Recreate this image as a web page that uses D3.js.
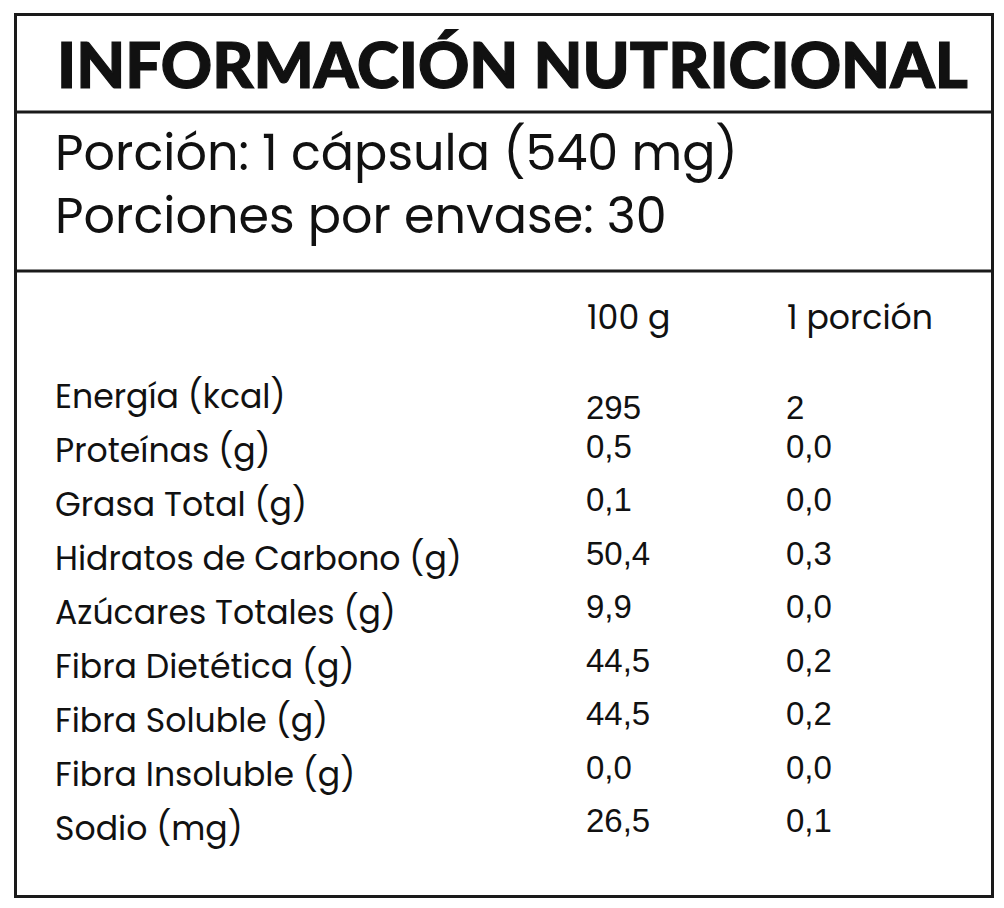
<!DOCTYPE html>
<html>
<head>
<meta charset="utf-8">
<script src="https://cdn.jsdelivr.net/npm/d3@7"></script>
<style>
  body { margin: 0; background: #fff; }
  svg { display: block; }
</style>
</head>
<body>
<svg width="1004" height="908"></svg>
<script>
// datos de la tabla
const titulo = 'INFORMACIÓN NUTRICIONAL';
const porcion = ['Porción: 1 cápsula (540 mg)', 'Porciones por envase: 30'];
const columnas = ['100 g', '1 porción'];
const nutrientes = ['Energía (kcal)', 'Proteínas (g)', 'Grasa Total (g)', 'Hidratos de Carbono (g)',
  'Azúcares Totales (g)', 'Fibra Dietética (g)', 'Fibra Soluble (g)', 'Fibra Insoluble (g)', 'Sodio (mg)'];
const por100g = ['295', '0,5', '0,1', '50,4', '9,9', '44,5', '44,5', '0,0', '26,5'];
const porPorcion = ['2', '0,0', '0,0', '0,3', '0,0', '0,2', '0,2', '0,0', '0,1'];

const svg = d3.select('svg');
const etiquetaFont = 'Poppins, Lato, "Noto Sans", sans-serif';
const numFont = '"Liberation Sans", Arial, sans-serif';

// marco y separadores
svg.append('rect')
  .attr('x', 15.5).attr('y', 14.5)
  .attr('width', 977).attr('height', 882)
  .attr('fill', 'none').attr('stroke', '#1a1a1a').attr('stroke-width', 3);
[112, 271].forEach(y => {
  svg.append('line')
    .attr('x1', 15).attr('x2', 993).attr('y1', y).attr('y2', y)
    .attr('stroke', '#1a1a1a').attr('stroke-width', 3);
});

// ajustar tamaño de letra a un ancho objetivo
function ajustar(sel, ancho) {
  const fs = parseFloat(sel.attr('font-size'));
  const w = sel.node().getComputedTextLength();
  sel.attr('font-size', fs * ancho / w);
  return fs * ancho / w;
}

// titulo
const t = svg.append('text')
  .attr('x', 57).attr('y', 88)
  .attr('font-family', '"Lato", "DejaVu Sans", sans-serif')
  .attr('font-weight', 900)
  .attr('font-size', 64)
  .attr('fill', '#111')
  .attr('stroke', '#111').attr('stroke-width', 1.2)
  .text(titulo);
ajustar(t, 911);

// porcion
const p0 = svg.append('text')
  .attr('x', 55).attr('y', 170)
  .attr('font-family', etiquetaFont)
  .attr('font-size', 44)
  .attr('fill', '#111')
  .text(porcion[0]);
const fsP = ajustar(p0, 683);
svg.append('text')
  .attr('x', 55).attr('y', 233)
  .attr('font-family', etiquetaFont)
  .attr('font-size', fsP)
  .attr('fill', '#111')
  .text(porcion[1]);

// columnas
const x = d3.scaleOrdinal().domain(columnas).range([587, 787]);
const yEtiq = d3.scalePoint().domain(nutrientes).range([408, 840]);
const yVal = d3.scalePoint().domain(nutrientes.slice(1)).range([458, 832]);

// tamaño de etiquetas: ajustar a la más larga
const prueba = svg.append('text')
  .attr('font-family', etiquetaFont).attr('font-size', 30)
  .text(nutrientes[3]);
const fsE = ajustar(prueba, 407);
prueba.remove();

svg.append('g').selectAll('text')
  .data(columnas).enter().append('text')
  .attr('x', d => x(d)).attr('y', 329)
  .attr('font-family', etiquetaFont)
  .attr('font-size', fsE)
  .attr('fill', '#111')
  .text(d => d);

svg.append('g').selectAll('text')
  .data(nutrientes).enter().append('text')
  .attr('x', 55).attr('y', d => yEtiq(d))
  .attr('font-family', etiquetaFont)
  .attr('font-size', fsE)
  .attr('fill', '#111')
  .text(d => d);

// valores
const yValor = (d, i) => i === 0 ? 419 : yVal(d);
[por100g, porPorcion].forEach((serie, c) => {
  svg.append('g').selectAll('text')
    .data(nutrientes).enter().append('text')
    .attr('x', x(columnas[c]) - 1)
    .attr('y', (d, i) => yValor(d, i))
    .attr('font-family', numFont)
    .attr('font-size', 33)
    .attr('fill', '#111')
    .text((d, i) => serie[i]);
});
</script>
</body>
</html>
